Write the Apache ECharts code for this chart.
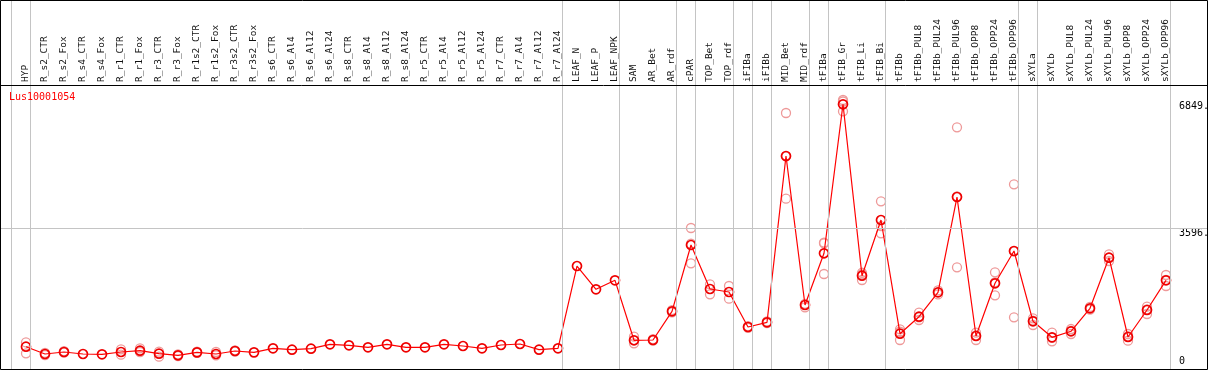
<!DOCTYPE html>
<html>
<head>
<meta charset="utf-8">
<script src="https://cdn.jsdelivr.net/npm/echarts@6/dist/echarts.min.js"></script>
<style>
html,body{margin:0;padding:0;background:#fff;}
#chart{width:1209px;height:370px;}
</style>
</head>
<body>
<div id="chart"></div>
<script>
const title = 'Lus10001054';
const categories = ['HYP','R_s2_CTR','R_s2_Fox','R_s4_CTR','R_s4_Fox','R_r1_CTR','R_r1_Fox','R_r3_CTR','R_r3_Fox',
  'R_r1s2_CTR','R_r1s2_Fox','R_r3s2_CTR','R_r3s2_Fox','R_s6_CTR','R_s6_Al4','R_s6_Al12','R_s6_Al24',
  'R_s8_CTR','R_s8_Al4','R_s8_Al12','R_s8_Al24','R_r5_CTR','R_r5_Al4','R_r5_Al12','R_r5_Al24',
  'R_r7_CTR','R_r7_Al4','R_r7_Al12','R_r7_Al24','LEAF_N','LEAF_P','LEAF_NPK','SAM','AR_Bet','AR_rdf',
  'cPAR','TOP_Bet','TOP_rdf','iFIBa','iFIBb','MID_Bet','MID_rdf','tFIBa','tFIB_Gr','tFIB_Li','tFIB_Bi',
  'tFIBb','tFIBb_PUL8','tFIBb_PUL24','tFIBb_PUL96','tFIBb_OPP8','tFIBb_OPP24','tFIBb_OPP96',
  'sXYLa','sXYLb','sXYLb_PUL8','sXYLb_PUL24','sXYLb_PUL96','sXYLb_OPP8','sXYLb_OPP24','sXYLb_OPP96'];
const meanValues = [568,382,433,382,374,433,466,390,349,424,382,458,424,527,492,517,628,
  603,552,628,552,552,628,586,527,611,637,492,527,2622,2029,2258,731,738,1469,
  3157,2037,1960,1069,1189,5423,1629,2946,6740,2375,3794,
  899,1332,1953,4379,840,2182,3004,1214,807,960,1545,2834,815,1502,2258];
const repA = [676,410,455,null,null,501,527,441,370,440,433,475,null,null,null,null,null,
  null,null,null,null,null,null,null,null,null,null,null,null,null,null,null,822,760,1500,
  3590,2156,2113,1090,1210,6518,1660,3200,6849,2450,4270,
  1011,1433,2000,6154,924,2462,4702,1290,924,1018,1580,2920,891,1586,2393];
const repB = [399,355,415,null,null,364,433,313,330,410,349,440,null,null,null,null,null,
  null,null,null,null,null,null,null,null,null,null,null,null,null,null,null,654,720,1440,
  2691,1902,1790,1050,1170,4336,1570,2419,6560,2266,3640,
  738,1248,1900,2589,738,1876,1316,1120,705,891,1510,2750,720,1400,2113];
const repC = [null,null,null,null,null,null,null,null,null,null,null,null,null,null,null,null,null,
  null,null,null,null,null,null,null,null,null,null,null,null,null,null,null,null,null,null,
  3190,null,null,null,null,5415,null,3219,6811,2409,3455,
  948,1315,null,4394,858,2208,2994,1232,792,971,null,2832,834,1520,2268];
const yTickValues = [0, 3596, 6849];
const groupEnds = [-1,0,28,31,34,35,37,38,39,41,42,45,52,53,60];

const W = 1209, H = 370;
const plotLeft = 1, plotRight = 1207, plotTop = 0, plotBottom = 369;
const firstCenter = 26, step = 19, topLabelLine = 85, maxPixel = 100;
const xMin = (plotLeft - firstCenter) / step;
const xMax = (plotRight - firstCenter) / step;
const yMax = yTickValues[2] * (plotBottom - plotTop) / (plotBottom - maxPixel);
const mono = 'DejaVu Sans Mono';

const repPoints = [];
[repA, repB, repC].forEach(arr => arr.forEach((v, i) => { if (v != null) repPoints.push([i, v]); }));

const chart = echarts.init(document.getElementById('chart'), null, {renderer: 'canvas'});
chart.setOption({
  animation: false,
  backgroundColor: '#fff',
  title: {text: title, left: 9, top: 92, padding: 0,
    textStyle: {color: '#ff0000', fontSize: 10, fontWeight: 'normal', fontFamily: mono}},
  grid: [
    {left: plotLeft, right: W - plotRight, top: plotTop, bottom: H - plotBottom, show: false,
      containLabel: false, outerBoundsMode: 'none'},
    {left: firstCenter - step / 2, width: step * categories.length, top: topLabelLine, height: 10, show: false,
      containLabel: false, outerBoundsMode: 'none'}
  ],
  xAxis: [
    {type: 'value', gridIndex: 0, min: xMin, max: xMax, show: false},
    {type: 'category', gridIndex: 1, data: categories, position: 'top',
      axisLine: {show: false}, axisTick: {show: false}, splitLine: {show: false},
      axisLabel: {interval: 0, rotate: 90, margin: 3, fontSize: 9.5, fontFamily: mono, color: '#111'}}
  ],
  yAxis: [
    {type: 'value', gridIndex: 0, min: 0, max: yMax, position: 'right',
      axisLine: {show: false}, axisTick: {show: false}, splitLine: {show: false},
      axisLabel: {customValues: yTickValues.slice(1), inside: true, margin: 28, align: 'left',
        verticalAlign: 'top', fontSize: 10, fontFamily: mono, color: '#000',
        backgroundColor: '#fff', padding: [1, 2, 0, 0],
        formatter: v => Math.round(v) + '.'}},
    {type: 'value', gridIndex: 0, min: 0, max: yMax, position: 'right',
      axisLine: {show: false}, axisTick: {show: false}, splitLine: {show: false},
      axisLabel: {customValues: yTickValues.slice(0, 1), inside: true, margin: 28, align: 'left',
        verticalAlign: 'bottom', padding: [0, 0, 3, 0], fontSize: 10, fontFamily: mono, color: '#000',
        formatter: v => String(Math.round(v))}},
    {type: 'value', gridIndex: 1, show: false}
  ],
  graphic: [
    {type: 'rect', z: 100, silent: true,
      shape: {x: 0.5, y: 0.5, width: plotRight, height: plotBottom},
      style: {fill: 'none', stroke: '#000', lineWidth: 1}},
    {type: 'line', z: 100, silent: true,
      shape: {x1: 0, y1: topLabelLine + 0.5, x2: plotRight, y2: topLabelLine + 0.5},
      style: {stroke: '#000', lineWidth: 1}}
  ],
  series: [
    {type: 'line', xAxisIndex: 0, yAxisIndex: 0, data: [], z: 1, silent: true,
      markLine: {silent: true, symbol: 'none', label: {show: false},
        lineStyle: {color: '#c4c4c4', width: 1, type: 'solid'},
        data: groupEnds.map(g => ({xAxis: g + 4 / step})).concat([{yAxis: yTickValues[1]}])}},
    {type: 'scatter', xAxisIndex: 0, yAxisIndex: 0, data: repPoints, z: 2,
      symbol: 'circle', symbolSize: 9,
      itemStyle: {color: 'rgba(0,0,0,0)', borderColor: '#ee9999', borderWidth: 1.3, opacity: 1}},
    {type: 'line', xAxisIndex: 0, yAxisIndex: 0, data: meanValues.map((v, i) => [i, v]), z: 3,
      symbol: 'circle', symbolSize: 9, showSymbol: true,
      lineStyle: {color: '#ff0000', width: 1.2},
      itemStyle: {color: 'rgba(0,0,0,0)', borderColor: '#ee0000', borderWidth: 1.7}}
  ]
});
</script>
</body>
</html>
